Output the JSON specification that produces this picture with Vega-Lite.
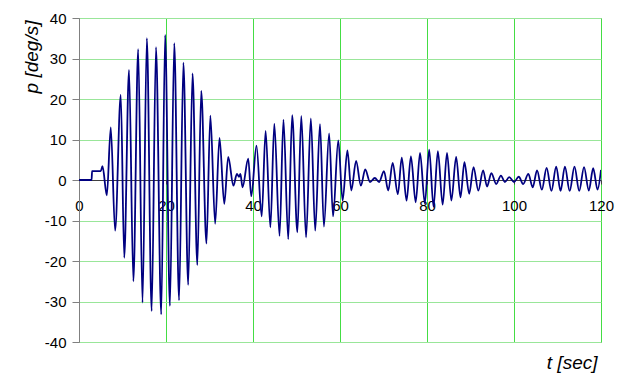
{
  "$schema": "https://vega.github.io/schema/vega-lite/v6.json",
  "width": 522,
  "height": 324,
  "autosize": {"type": "none"},
  "padding": {"left": 79, "top": 18, "right": 25, "bottom": 32},
  "background": "white",
  "config": {
    "view": {"stroke": "#808080", "strokeWidth": 1},
    "font": "Liberation Sans"
  },
  "data": {
    "values": [
      {"t": 0, "p": 0}, {"t": 2.9, "p": 0}, {"t": 3.0, "p": 2.2}, {"t": 5.0, "p": 2.2}, {"t": 5.4, "p": 3.4},
      {"t": 6.4, "p": -3.8}, {"t": 7.3, "p": 13}, {"t": 8.3, "p": -12.5}, {"t": 9.6, "p": 21},
      {"t": 10.4, "p": -19.2}, {"t": 11.5, "p": 27.2}, {"t": 12.5, "p": -25}, {"t": 13.6, "p": 32.3},
      {"t": 14.6, "p": -30.3}, {"t": 15.6, "p": 35}, {"t": 16.7, "p": -32.4}, {"t": 17.7, "p": 32.8},
      {"t": 18.9, "p": -33.2}, {"t": 19.8, "p": 35.8}, {"t": 20.9, "p": -31.1}, {"t": 21.9, "p": 33.8},
      {"t": 23.0, "p": -29.7}, {"t": 24.0, "p": 29}, {"t": 25.1, "p": -25.9}, {"t": 26.1, "p": 26.3},
      {"t": 27.2, "p": -21}, {"t": 28.1, "p": 22}, {"t": 29.3, "p": -15.7}, {"t": 30.2, "p": 15.9},
      {"t": 31.3, "p": -10.8}, {"t": 32.3, "p": 10.4}, {"t": 33.4, "p": -5.9}, {"t": 34.3, "p": 5.7},
      {"t": 35.5, "p": -1.4}, {"t": 36.3, "p": 1.5}, {"t": 36.8, "p": 0.8}, {"t": 37.1, "p": 1.5},
      {"t": 37.6, "p": -1.8}, {"t": 38.9, "p": 5.3}, {"t": 39.6, "p": -4}, {"t": 40.8, "p": 8.5},
      {"t": 42.0, "p": -9}, {"t": 42.9, "p": 12.1}, {"t": 44.0, "p": -11.7}, {"t": 44.9, "p": 13.9},
      {"t": 46.1, "p": -13.8}, {"t": 47.0, "p": 14.9}, {"t": 48.1, "p": -14.6}, {"t": 49.0, "p": 16},
      {"t": 50.2, "p": -12.9}, {"t": 51.1, "p": 15.8}, {"t": 52.2, "p": -14.2}, {"t": 53.3, "p": 15.2},
      {"t": 54.3, "p": -12.5}, {"t": 55.4, "p": 13.8}, {"t": 56.3, "p": -11.5}, {"t": 57.5, "p": 11.5},
      {"t": 58.4, "p": -9}, {"t": 59.6, "p": 9.8}, {"t": 60.6, "p": -5.1}, {"t": 61.7, "p": 7.3},
      {"t": 62.6, "p": -2.6}, {"t": 63.7, "p": 4.7}, {"t": 64.8, "p": -1.4}, {"t": 65.8, "p": 2.6},
      {"t": 66.9, "p": -0.5}, {"t": 68.0, "p": 0.5}, {"t": 69.0, "p": -0.5}, {"t": 70.1, "p": 2.2},
      {"t": 71.1, "p": -2.6}, {"t": 72.1, "p": 4.2}, {"t": 73.3, "p": -3.5}, {"t": 74.2, "p": 5.5},
      {"t": 75.3, "p": -5.1}, {"t": 76.3, "p": 5.8}, {"t": 77.4, "p": -5.5}, {"t": 78.4, "p": 6.7},
      {"t": 79.5, "p": -5.8}, {"t": 80.5, "p": 7.5}, {"t": 81.5, "p": -6.6}, {"t": 82.5, "p": 7.1},
      {"t": 83.6, "p": -6.1}, {"t": 84.6, "p": 6.7}, {"t": 85.6, "p": -5.1}, {"t": 86.7, "p": 5.7},
      {"t": 87.7, "p": -4.3}, {"t": 88.6, "p": 4.4}, {"t": 89.7, "p": -3.4}, {"t": 90.7, "p": 3.2},
      {"t": 91.8, "p": -2.6}, {"t": 92.9, "p": 2.4}, {"t": 93.8, "p": -1.6}, {"t": 94.8, "p": 1.7},
      {"t": 95.9, "p": -1}, {"t": 97.0, "p": 1.1}, {"t": 97.9, "p": -0.5}, {"t": 98.9, "p": 0.7},
      {"t": 100.0, "p": -0.5}, {"t": 101.1, "p": 0.8}, {"t": 102.1, "p": -1}, {"t": 103.3, "p": 1.5},
      {"t": 104.3, "p": -1.8}, {"t": 105.3, "p": 2.4}, {"t": 106.4, "p": -2.4}, {"t": 107.5, "p": 3},
      {"t": 108.6, "p": -2.7}, {"t": 109.7, "p": 3.3}, {"t": 110.7, "p": -2.7}, {"t": 111.7, "p": 3.3},
      {"t": 112.8, "p": -2.7}, {"t": 113.9, "p": 3.3}, {"t": 115.0, "p": -2.7}, {"t": 116.1, "p": 3.2},
      {"t": 117.2, "p": -2.6}, {"t": 118.2, "p": 2.9}, {"t": 119.2, "p": -2.4}, {"t": 120, "p": 2.5}
    ]
  },
  "mark": {"type": "line", "color": "#000080", "strokeWidth": 1.8, "interpolate": "monotone", "clip": true},
  "encoding": {
    "x": {
      "field": "t", "type": "quantitative",
      "scale": {"domain": [0, 120], "nice": false, "zero": false},
      "axis": {
        "values": [0, 20, 40, 60, 80, 100, 120],
        "offset": -162,
        "domainColor": "#404040", "domainWidth": 1,
        "ticks": true, "tickSize": 4, "tickColor": "#404040",
        "labelPadding": 14, "labelFontSize": 15, "labelColor": "#000000", "labelFont": "Liberation Sans",
        "labelFlush": false, "labelOverlap": false,
        "grid": true, "gridColor": "#44dd44", "gridWidth": 1,
        "title": "t [sec]", "titleFont": "Liberation Sans", "titleFontStyle": "italic", "titleFontWeight": "normal",
        "titleFontSize": 19, "titleColor": "#000000",
        "titleAnchor": null, "titleAlign": "right", "titleBaseline": "middle",
        "titleX": 518, "titleY": 182
      }
    },
    "y": {
      "field": "p", "type": "quantitative",
      "scale": {"domain": [-40, 40], "nice": false},
      "axis": {
        "values": [-40, -30, -20, -10, 0, 10, 20, 30, 40],
        "labelExpr": "toString(datum.value)",
        "domainColor": "#808080",
        "tickSize": 7, "tickColor": "#808080",
        "labelPadding": 6, "labelFontSize": 15, "labelColor": "#000000", "labelFont": "Liberation Sans",
        "labelFlush": false, "labelOverlap": false,
        "grid": true, "gridColor": "#99e699", "gridWidth": 1,
        "title": "p [deg/s]", "titleFont": "Liberation Sans", "titleFontStyle": "italic", "titleFontWeight": "normal",
        "titleFontSize": 19, "titleColor": "#000000",
        "titleAngle": -90, "titleAnchor": null, "titleAlign": "right", "titleBaseline": "middle",
        "titleX": -48, "titleY": 2
      }
    }
  }
}
